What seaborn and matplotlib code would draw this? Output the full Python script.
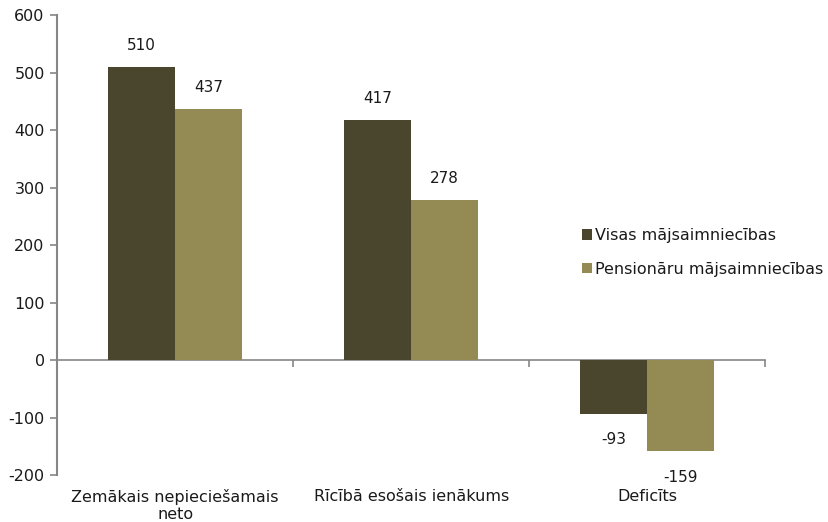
import pandas as pd
import matplotlib
matplotlib.use("Agg")
import matplotlib.pyplot as plt
import seaborn as sns

# =========================================
# DATA
# =========================================
CATEGORIES = ["Zemākais nepieciešamais\nneto", "Rīcībā esošais ienākums", "Deficīts"]
SERIES = ["Visas mājsaimniecības", "Pensionāru mājsaimniecības"]
VISAS = [510, 417, -93]
PENSIONARU = [437, 278, -159]
Y_TICKS = [-200, -100, 0, 100, 200, 300, 400, 500, 600]

COLORS = ["#4a452d", "#948a54"]
AXIS_GREY = "#868686"
TEXT = "#1a1a1a"

# =========================================
# PLOT
# =========================================
sns.set_theme(style="white")
plt.rcParams["font.family"] = ["DejaVu Sans"]
plt.rcParams["axes.unicode_minus"] = False

df = pd.DataFrame({
    "category": CATEGORIES * 2,
    "series": [SERIES[0]] * 3 + [SERIES[1]] * 3,
    "value": VISAS + PENSIONARU,
})

fig = plt.figure(figsize=(8.29, 5.22), dpi=100)
ax = fig.add_axes([0.069, 0.090, 0.854, 0.881])

sns.barplot(
    data=df, x="category", y="value", hue="series",
    palette=COLORS, saturation=1, width=0.57, ax=ax,
    edgecolor="none", linewidth=0,
)

# value labels: a bit closer above positive bars, further below negatives
for container, values in zip(ax.containers, [VISAS, PENSIONARU]):
    pos = [str(v) if v >= 0 else "" for v in values]
    neg = [str(v) if v < 0 else "" for v in values]
    ax.bar_label(container, labels=pos, padding=10, fontsize=11, color=TEXT)
    ax.bar_label(container, labels=neg, padding=13, fontsize=11, color=TEXT)

ax.set_ylim(-200, 600)
ax.set_xlim(-0.5, 2.5)
ax.set_yticks(Y_TICKS)
ax.set_xlabel("")
ax.set_ylabel("")

for side in ["top", "right", "bottom"]:
    ax.spines[side].set_visible(False)
ax.spines["left"].set_color(AXIS_GREY)
ax.spines["left"].set_linewidth(1.5)

ax.tick_params(axis="y", which="major", left=True, length=5, width=1.2,
               color=AXIS_GREY, labelsize=11.5, labelcolor=TEXT, pad=4)
ax.tick_params(axis="x", which="major", bottom=False, length=0,
               labelsize=11.5, labelcolor=TEXT, pad=10)

# zero line with category-boundary ticks
zero_frac = (0 - (-200)) / 800
sec = ax.secondary_xaxis(zero_frac)
sec.set_xticks([0.5, 1.5, 2.5])
sec.set_xticklabels([])
sec.spines["bottom"].set_color(AXIS_GREY)
sec.spines["bottom"].set_linewidth(1.2)
sec.tick_params(axis="x", length=5, width=1.2, color=AXIS_GREY, direction="out")

leg = ax.legend(
    loc="center left", bbox_to_anchor=(0.732, 0.484), frameon=False,
    fontsize=11.5, handlelength=0.65, handleheight=0.65, handletextpad=0.2,
    labelspacing=1.15, borderaxespad=0,
)
for text in leg.get_texts():
    text.set_color(TEXT)

fig.savefig("out.png", dpi=100, facecolor="white")
